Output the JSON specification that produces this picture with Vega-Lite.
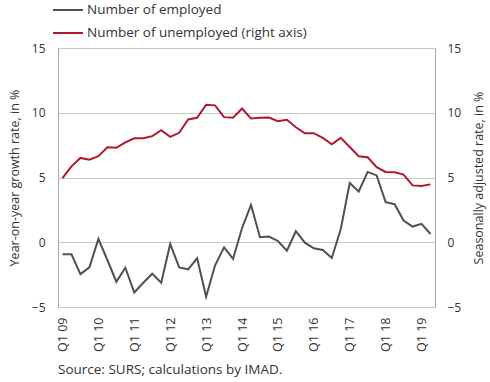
{
  "$schema": "https://vega.github.io/schema/vega-lite/v6.json",
  "autosize": "none",
  "width": 377,
  "height": 259,
  "padding": {"left": 58, "top": 48, "right": 55, "bottom": 75},
  "config": {
    "font": "Open Sans",
    "view": {"stroke": "#a8a8a8", "strokeWidth": 1},
    "axis": {"labelFont": "Open Sans", "titleFont": "Open Sans", "labelColor": "#333", "titleColor": "#333", "labelFontSize": 12, "titleFontSize": 12.5, "titleFontWeight": "normal", "ticks": false, "domain": false}
  },
  "title": {"text": "Source: SURS; calculations by IMAD.", "orient": "bottom", "anchor": "start", "frame": "group", "fontSize": 13.5, "fontWeight": "normal", "color": "#333", "font": "Open Sans", "offset": 12},
  "data": {"values": [
    {"q": "Q1 09", "emp": -0.93, "unemp": 4.96},
    {"q": "Q2 09", "emp": -0.93, "unemp": 5.86},
    {"q": "Q3 09", "emp": -2.46, "unemp": 6.51},
    {"q": "Q4 09", "emp": -1.94, "unemp": 6.38},
    {"q": "Q1 10", "emp": 0.26, "unemp": 6.64},
    {"q": "Q2 10", "emp": -1.37, "unemp": 7.33},
    {"q": "Q3 10", "emp": -3.05, "unemp": 7.29},
    {"q": "Q4 10", "emp": -1.97, "unemp": 7.72},
    {"q": "Q1 11", "emp": -3.88, "unemp": 8.03},
    {"q": "Q2 11", "emp": -3.13, "unemp": 8.03},
    {"q": "Q3 11", "emp": -2.43, "unemp": 8.19},
    {"q": "Q4 11", "emp": -3.13, "unemp": 8.65},
    {"q": "Q1 12", "emp": -0.13, "unemp": 8.14},
    {"q": "Q2 12", "emp": -1.94, "unemp": 8.45},
    {"q": "Q3 12", "emp": -2.09, "unemp": 9.48},
    {"q": "Q4 12", "emp": -1.24, "unemp": 9.61},
    {"q": "Q1 13", "emp": -4.21, "unemp": 10.62},
    {"q": "Q2 13", "emp": -1.78, "unemp": 10.57},
    {"q": "Q3 13", "emp": -0.39, "unemp": 9.66},
    {"q": "Q4 13", "emp": -1.29, "unemp": 9.61},
    {"q": "Q1 14", "emp": 1.08, "unemp": 10.33},
    {"q": "Q2 14", "emp": 2.89, "unemp": 9.56},
    {"q": "Q3 14", "emp": 0.39, "unemp": 9.62},
    {"q": "Q4 14", "emp": 0.44, "unemp": 9.63},
    {"q": "Q1 15", "emp": 0.10, "unemp": 9.35},
    {"q": "Q2 15", "emp": -0.65, "unemp": 9.46},
    {"q": "Q3 15", "emp": 0.85, "unemp": 8.88},
    {"q": "Q4 15", "emp": -0.03, "unemp": 8.42},
    {"q": "Q1 16", "emp": -0.47, "unemp": 8.42},
    {"q": "Q2 16", "emp": -0.60, "unemp": 8.06},
    {"q": "Q3 16", "emp": -1.22, "unemp": 7.57},
    {"q": "Q4 16", "emp": 1.00, "unemp": 8.06},
    {"q": "Q1 17", "emp": 4.57, "unemp": 7.36},
    {"q": "Q2 17", "emp": 3.92, "unemp": 6.64},
    {"q": "Q3 17", "emp": 5.43, "unemp": 6.56},
    {"q": "Q4 17", "emp": 5.16, "unemp": 5.8},
    {"q": "Q1 18", "emp": 3.10, "unemp": 5.43},
    {"q": "Q2 18", "emp": 2.94, "unemp": 5.40},
    {"q": "Q3 18", "emp": 1.68, "unemp": 5.22},
    {"q": "Q4 18", "emp": 1.21, "unemp": 4.39},
    {"q": "Q1 19", "emp": 1.42, "unemp": 4.34},
    {"q": "Q2 19", "emp": 0.64, "unemp": 4.47}
  ]},
  "encoding": {
    "x": {"field": "q", "type": "nominal", "sort": null, "title": null,
      "axis": {"values": ["Q1 09","Q1 10","Q1 11","Q1 12","Q1 13","Q1 14","Q1 15","Q1 16","Q1 17","Q1 18","Q1 19"], "labelAngle": -90, "labelPadding": 10, "labelFontSize": 12.5, "grid": false}}
  },
  "layer": [
    {
      "mark": {"type": "line", "strokeWidth": 2},
      "encoding": {
        "y": {"field": "emp", "type": "quantitative", "scale": {"domain": [-5, 15], "nice": false, "zero": false},
          "title": "Year-on-year growth rate, in %",
          "axis": {"orient": "left", "values": [-5, 0, 5, 10, 15], "grid": true, "gridColor": "#c8c8c8", "labelPadding": 13, "titlePadding": 10}},
        "color": {"datum": "Number of employed", "type": "nominal",
          "scale": {"domain": ["Number of employed", "Number of unemployed (right axis)"], "range": ["#505050", "#b0182e"]},
          "legend": {"title": null, "orient": "none", "legendX": -6, "legendY": -54, "symbolType": "stroke", "symbolSize": 900, "symbolStrokeWidth": 2, "labelFontSize": 13.5, "labelLimit": 0, "labelColor": "#333", "labelFont": "Open Sans", "rowPadding": -13, "labelOffset": 3}}
      }
    },
    {
      "mark": {"type": "line", "strokeWidth": 2},
      "encoding": {
        "y": {"field": "unemp", "type": "quantitative", "scale": {"domain": [-5, 15], "nice": false, "zero": false},
          "title": "Seasonally adjusted rate, in %",
          "axis": {"orient": "right", "values": [-5, 0, 5, 10, 15], "grid": false, "labelPadding": 12, "titlePadding": 12, "titleAngle": -90, "titleBaseline": "top"}},
        "color": {"datum": "Number of unemployed (right axis)", "type": "nominal"}
      }
    }
  ],
  "resolve": {"scale": {"y": "independent"}}
}
